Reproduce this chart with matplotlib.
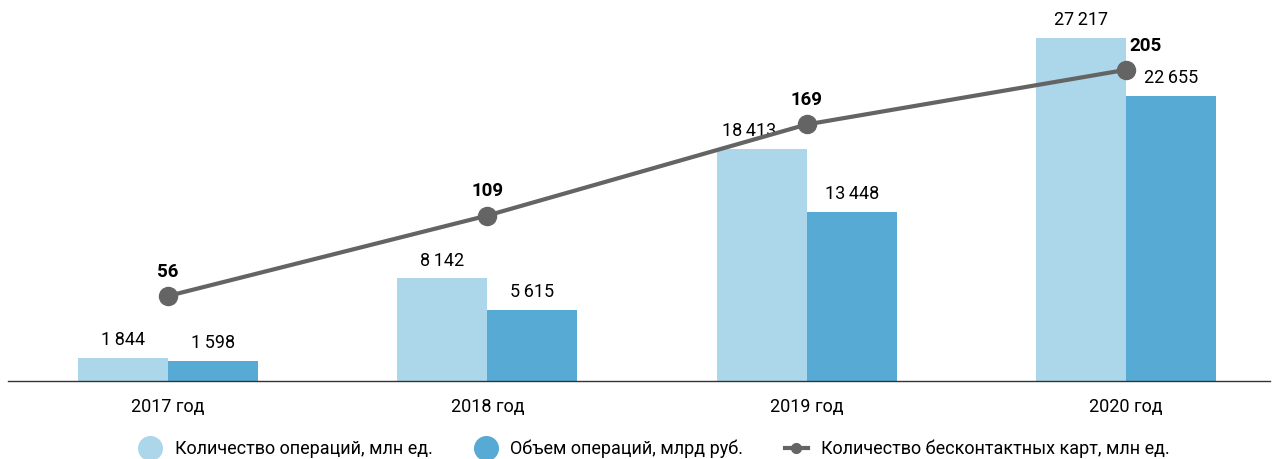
import matplotlib
matplotlib.use('Agg')
from matplotlib import pyplot as plt
from matplotlib.lines import Line2D
import numpy as np

plt.rcParams['font.family'] = ['Liberation Sans Narrow', 'Roboto', 'DejaVu Sans']

years = ['2017 год', '2018 год', '2019 год', '2020 год']
kol_oper = [1844, 8142, 18413, 27217]      # млн ед.
obem_oper = [1598, 5615, 13448, 22655]     # млрд руб.
karty = [56, 109, 169, 205]                # млн ед.

c_light = '#acd6ea'
c_dark = '#57aad3'
c_line = '#646464'

def fmt(v):
    return '{:,}'.format(v).replace(',', '\u2009')

fig = plt.figure(figsize=(12.74, 4.59), dpi=100)
ax = fig.add_axes([8/1274, 78/459, 1262/1274, 381/459])
x = np.arange(len(years))
w = 0.282

ax.bar(x - w/2, kol_oper, w, color=c_light, zorder=2)
ax.bar(x + w/2, obem_oper, w, color=c_dark, zorder=2)
for i in range(len(x)):
    dx = -0.04 if i == 2 else 0   # сдвиг подписи, чтобы не налезала на линию
    ax.text(x[i] - w/2 + dx, kol_oper[i] + 700, fmt(kol_oper[i]), ha='center', va='bottom', fontsize=13)
    ax.text(x[i] + w/2, obem_oper[i] + 700, fmt(obem_oper[i]), ha='center', va='bottom', fontsize=13)

ax.set_xlim(-0.501, 3.451)
ax.set_ylim(0, 30240)
ax.set_xticks(x)
ax.set_xticklabels(years, fontsize=13)
ax.tick_params(axis='x', length=0, pad=12)
ax.set_yticks([])
for s in ['top', 'right', 'left']:
    ax.spines[s].set_visible(False)
ax.spines['bottom'].set_color('#333333')
ax.spines['bottom'].set_linewidth(1)
ax.spines['bottom'].set_zorder(3)

ax2 = ax.twinx()
ax2.set_ylim(0, 251)
ax2.plot(x, karty, color=c_line, lw=3, marker='o', ms=13, zorder=4)
for i in range(len(x)):
    dx = 0.06 if i == 3 else 0
    ax2.text(x[i] + dx, karty[i] + 10, str(karty[i]), ha='center', va='bottom',
             fontsize=13.5, fontweight='bold')
ax2.axis('off')

handles = [
    Line2D([], [], ls='none', marker='o', ms=17, color=c_light),
    Line2D([], [], ls='none', marker='o', ms=17, color=c_dark),
    Line2D([], [], color=c_line, lw=3, marker='o', ms=7),
]
labels = ['Количество операций, млн ед.', 'Объем операций, млрд руб.',
          'Количество бесконтактных карт, млн ед.']
fig.legend(handles, labels, loc='center', bbox_to_anchor=(654/1274, 1 - 449/459),
           ncol=3, frameon=False, fontsize=13, columnspacing=2.3, handlelength=1.3,
           handletextpad=0.7)

plt.savefig('out.png', dpi=100)
